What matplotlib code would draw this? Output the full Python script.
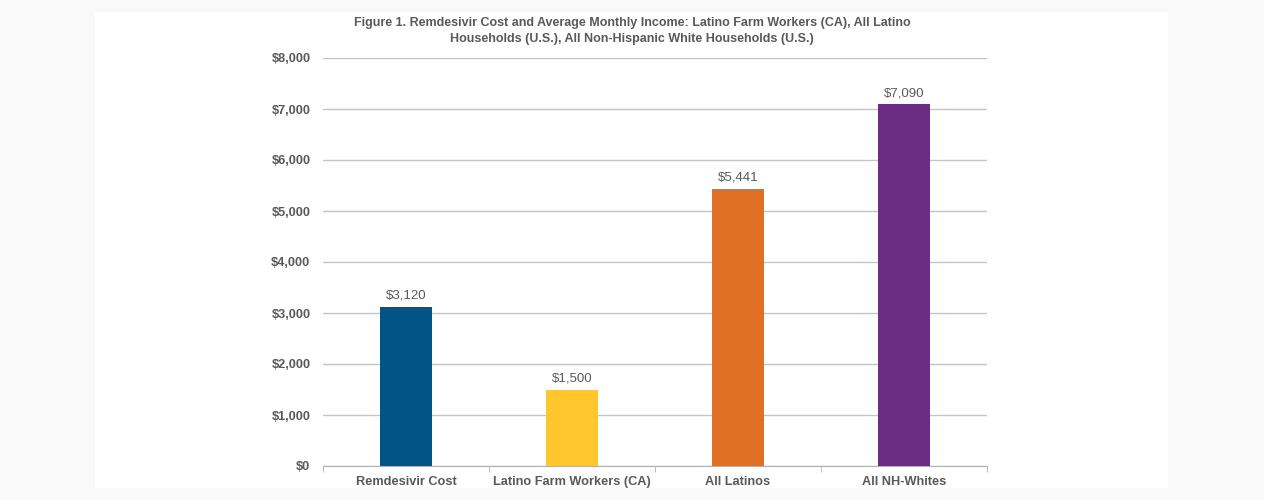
import matplotlib.pyplot as plt
from matplotlib.patches import Rectangle
from matplotlib.ticker import FuncFormatter, FixedLocator

categories = ['Remdesivir Cost', 'Latino Farm Workers (CA)', 'All Latinos', 'All NH-Whites']
values = [3120, 1500, 5441, 7090]
colors = ['#005587', '#FFC72C', '#E07124', '#6C2C83']

plt.rcParams['font.family'] = ['Liberation Sans', 'DejaVu Sans']
txt = '#595959'

fig = plt.figure(figsize=(12.64, 5.0), dpi=100)
fig.patch.set_facecolor('#f9f9f9')
# white page panel behind the chart
fig.add_artist(Rectangle((95 / 1264, 12 / 500), (1168 - 95) / 1264, (488 - 12) / 500,
                         transform=fig.transFigure, facecolor='white', edgecolor='none', zorder=-5))

ax = fig.add_axes([323 / 1264, 34 / 500, 664 / 1264, 408 / 500])
ax.set_zorder(2)
ax.set_facecolor('none')
x = range(len(categories))
bars = ax.bar(x, values, width=0.31, color=colors, zorder=3)
for b, v in zip(bars, values):
    ax.text(b.get_x() + b.get_width() / 2, v + 100, '${:,}'.format(v),
            ha='center', va='bottom', fontsize=9.5, color=txt)

ax.set_xlim(-0.5, 3.5)
ax.set_ylim(0, 8000)
ax.set_yticks(range(0, 8001, 1000))
ax.yaxis.set_major_formatter(FuncFormatter(lambda v, p: '${:,.0f}'.format(v)))
ax.grid(axis='y', color='#c4c4c4', linewidth=1, zorder=0)
ax.set_xticks(list(x))
ax.set_xticklabels(categories)
ax.xaxis.set_minor_locator(FixedLocator([-0.5, 0.5, 1.5, 2.5, 3.5]))
ax.tick_params(axis='x', which='major', length=0, pad=7)
ax.tick_params(axis='x', which='minor', length=4, color='#b0b0b0')
ax.tick_params(axis='y', length=0, pad=9)
for lab in ax.get_xticklabels() + ax.get_yticklabels():
    lab.set_fontsize(9.2)
    lab.set_fontweight('bold')
    lab.set_color(txt)
for s in ['top', 'right', 'left']:
    ax.spines[s].set_visible(False)
ax.spines['bottom'].set_color('#b0b0b0')

fig.text(0.5, 1 - 17 / 500,
         'Figure 1. Remdesivir Cost and Average Monthly Income: Latino Farm Workers (CA), All Latino\n'
         'Households (U.S.), All Non-Hispanic White Households (U.S.)',
         ha='center', va='top', fontsize=9, fontweight='bold', color=txt, linespacing=1.45)

fig.savefig('out.png', dpi=100, facecolor=fig.get_facecolor())
